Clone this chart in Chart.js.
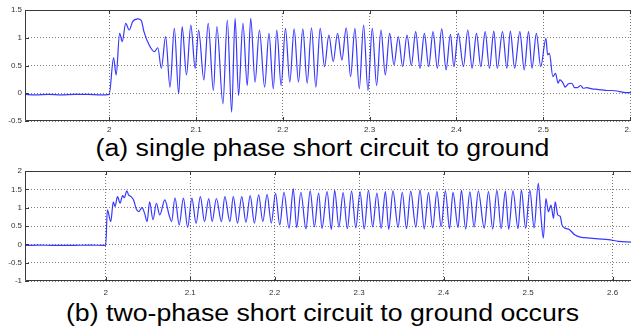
<!DOCTYPE html>
<html>
<head>
<meta charset="utf-8">
<script src="https://cdn.jsdelivr.net/npm/chart.js@4.4.1/dist/chart.umd.min.js"></script>
<style>
  html, body { margin: 0; padding: 0; background: #fff; overflow: hidden; }
  body { width: 631px; height: 333px; position: relative; }
  canvas { position: absolute; left: 0; }
  #chartA { top: 0; }
  #chartB { top: 160px; }
  .caption {
    position: absolute; left: 10px; width: 625px; text-align: center;
    font-family: 'Liberation Sans', Arial, sans-serif; font-size: 23px;
    line-height: 26px; color: #000; white-space: nowrap;
    transform: scaleX(1.16); transform-origin: 312.5px 0;
  }
  #capA { top: 135px; }
  #capB { top: 300px; }
</style>
</head>
<body>
<canvas id="chartA" width="631" height="134"></canvas>
<div class="caption" id="capA">(a) single phase short circuit to ground</div>
<canvas id="chartB" width="631" height="135"></canvas>
<div class="caption" id="capB">(b) two-phase short circuit to ground occurs</div>

<script>
// (a) single phase fault - time (s) and value
const timeA = [
  1.903, 1.915, 1.930, 1.945, 1.960, 1.975, 1.990, 2.000,
  2.005, 2.008, 2.012, 2.015, 2.019, 2.023, 2.027, 2.033, 2.037, 2.040,
  2.046, 2.052, 2.056, 2.060, 2.065, 2.070, 2.075, 2.080, 2.084, 2.089,
  2.094, 2.099, 2.103, 2.109, 2.114, 2.120, 2.124, 2.131, 2.136, 2.141,
  2.145, 2.149, 2.154, 2.159, 2.163, 2.168, 2.173, 2.179, 2.184, 2.189,
  2.193, 2.198, 2.203, 2.208, 2.213, 2.218, 2.223, 2.228, 2.233, 2.238,
  2.243, 2.248, 2.253, 2.258, 2.263, 2.268, 2.273, 2.278, 2.283, 2.288,
  2.293, 2.298, 2.303, 2.308, 2.313, 2.318, 2.323, 2.328, 2.333, 2.338,
  2.343, 2.348, 2.353, 2.358, 2.363, 2.368, 2.373, 2.378, 2.383, 2.388,
  2.393, 2.397, 2.402, 2.408, 2.413, 2.418, 2.423, 2.428, 2.433, 2.438,
  2.443, 2.447, 2.453, 2.458, 2.462, 2.467, 2.473, 2.478, 2.483, 2.487,
  2.492, 2.497, 2.503, 2.505, 2.507, 2.511, 2.514, 2.517, 2.519, 2.522,
  2.524, 2.525, 2.529, 2.533, 2.536, 2.539, 2.543, 2.546, 2.550, 2.556,
  2.562, 2.568, 2.573, 2.579, 2.585, 2.591, 2.597, 2.601
];
const valueA = [
  -0.02, -0.03, -0.02, -0.03, -0.02, -0.02, -0.03, -0.02,
  0.64, 0.33, 1.08, 0.93, 1.26, 1.14, 1.29, 1.34, 1.31, 1.11,
  0.87, 0.75, 0.82, 0.45, 1.02, 0.11, 1.17, -0.01, 1.20, 0.33,
  1.23, 0.45, 1.14, 0.24, 1.26, 0.05, 1.20, -0.19, 1.32, -0.34,
  1.35, -0.04, 1.26, 0.14, 1.35, 0.20, 1.14, 0.11, 1.08, 0.08,
  1.14, 0.14, 1.17, 0.20, 1.16, 0.20, 1.16, 0.18, 1.18, 0.11,
  1.17, 0.48, 1.05, 0.57, 1.08, 0.60, 1.18, 0.30, 1.17, 0.08,
  1.23, 0.05, 1.17, 0.14, 1.14, 0.33, 1.08, 0.51, 1.02, 0.48,
  1.05, 0.50, 1.11, 0.45, 1.08, 0.48, 1.11, 0.45, 1.16, 0.42,
  1.06, 0.48, 1.08, 0.48, 1.14, 0.45, 1.08, 0.48, 1.11, 0.45,
  1.12, 0.45, 1.11, 0.45, 1.12, 0.45, 1.11, 0.42, 1.11, 0.45,
  1.08, 0.48, 0.99, 0.69, 0.72, 0.30, 0.36, 0.18, 0.24, 0.20,
  0.14, 0.11, 0.17, 0.18, 0.10, 0.10, 0.14, 0.09, 0.10, 0.08,
  0.07, 0.06, 0.05, 0.05, 0.04, 0.02, 0.01, 0.01
];

// (b) two-phase fault
const timeB = [
  1.905, 1.920, 1.940, 1.960, 1.980, 2.000,
  2.002, 2.006, 2.009, 2.011, 2.014, 2.017, 2.020, 2.022, 2.025, 2.027,
  2.030, 2.033, 2.036, 2.039, 2.043, 2.046, 2.049, 2.052, 2.056, 2.060,
  2.064, 2.070, 2.075, 2.078, 2.082, 2.087, 2.092, 2.097, 2.102, 2.107,
  2.112, 2.117, 2.122, 2.126, 2.131, 2.137, 2.141, 2.147, 2.151, 2.156,
  2.161, 2.166, 2.171, 2.176, 2.181, 2.186, 2.191, 2.196, 2.201, 2.206,
  2.211, 2.217, 2.222, 2.226, 2.231, 2.237, 2.242, 2.247, 2.252, 2.256,
  2.262, 2.267, 2.271, 2.276, 2.281, 2.286, 2.291, 2.296, 2.301, 2.306,
  2.311, 2.316, 2.321, 2.326, 2.331, 2.335, 2.340, 2.346, 2.351, 2.356,
  2.361, 2.367, 2.372, 2.377, 2.382, 2.387, 2.392, 2.397, 2.402, 2.407,
  2.411, 2.417, 2.421, 2.426, 2.431, 2.436, 2.441, 2.448, 2.453, 2.458,
  2.463, 2.468, 2.473, 2.477, 2.482, 2.488, 2.492, 2.497, 2.502, 2.507,
  2.512, 2.515, 2.518, 2.521, 2.524, 2.527, 2.530, 2.532, 2.535, 2.538,
  2.540, 2.544, 2.549, 2.555, 2.563, 2.573, 2.583, 2.595, 2.607, 2.622
];
const valueB = [
  -0.03, -0.02, -0.03, -0.03, -0.02, -0.03,
  0.94, 0.62, 1.16, 1.03, 1.30, 1.12, 1.33, 1.27, 1.46, 1.35,
  1.30, 1.21, 0.98, 0.89, 1.00, 0.85, 0.62, 1.16, 0.67, 1.12,
  0.80, 1.21, 0.80, 0.62, 1.27, 0.53, 1.26, 0.46, 1.26, 0.57,
  1.30, 0.62, 1.25, 0.62, 1.25, 0.62, 1.30, 0.62, 1.30, 0.58,
  1.30, 0.60, 1.33, 0.58, 1.35, 0.62, 1.36, 0.58, 1.39, 0.53,
  1.42, 0.44, 1.51, 0.46, 1.42, 0.42, 1.46, 0.48, 1.40, 0.44,
  1.44, 0.41, 1.47, 0.47, 1.41, 0.43, 1.45, 0.45, 1.43, 0.42,
  1.47, 0.48, 1.40, 0.44, 1.44, 0.41, 1.46, 0.46, 1.42, 0.43,
  1.45, 0.47, 1.48, 0.42, 1.41, 0.45, 1.44, 0.48, 1.46, 0.43,
  1.42, 0.46, 1.47, 0.42, 1.43, 0.47, 1.45, 0.44, 1.44, 0.42,
  1.47, 0.43, 1.45, 0.41, 1.46, 0.43, 1.48, 0.44, 1.47, 0.45,
  1.66, 0.80, 0.17, 1.25, 0.89, 1.07, 0.71, 1.16, 0.80, 0.76,
  0.53, 0.44, 0.40, 0.26, 0.19, 0.17, 0.15, 0.13, 0.08, 0.06
];

const xTicks = [2.0, 2.1, 2.2, 2.3, 2.4, 2.5, 2.6];
const xTickLabels = ['2', '2.1', '2.2', '2.3', '2.4', '2.5', '2.6'];
const yTicksA = [-0.5, 0, 0.5, 1, 1.5];
const yTickLabelsA = ['-0.5', '0', '0.5', '1', '1.5'];
const yTicksB = [-1, -0.5, 0, 0.5, 1, 1.5, 2];
const yTickLabelsB = ['-1', '-0.5', '0', '0.5', '1', '1.5', '2'];

const tickFont = { family: "'Liberation Sans Narrow', 'Liberation Sans', sans-serif", size: 8 };

// matlab style box with inward tick marks
const framePlugin = {
  id: 'frame',
  afterDraw(chart) {
    const { ctx, chartArea: a, scales } = chart;
    ctx.save();
    ctx.strokeStyle = '#3a3a3a';
    ctx.lineWidth = 1;
    ctx.beginPath();
    ctx.rect(a.left + 0.5, a.top + 0.5, a.right - a.left, a.bottom - a.top - 1);
    scales.x.ticks.forEach(t => {
      const x = Math.round(scales.x.getPixelForValue(t.value)) + 0.5;
      ctx.moveTo(x, a.bottom); ctx.lineTo(x, a.bottom - 4);
      ctx.moveTo(x, a.top); ctx.lineTo(x, a.top + 4);
    });
    scales.y.ticks.forEach(t => {
      const y = Math.round(scales.y.getPixelForValue(t.value)) + 0.5;
      ctx.moveTo(a.left, y); ctx.lineTo(a.left + 4, y);
    });
    ctx.stroke();
    ctx.restore();
  }
};

function makeChart(id, times, values, yMin, yMax, yTicks, yLabels, xMin, xMax, padTop, xHeight, xPad) {
  const points = times.map((t, i) => ({ x: t, y: values[i] }));
  return new Chart(document.getElementById(id), {
    type: 'line',
    data: {
      datasets: [{
        data: points,
        borderColor: 'rgba(20,20,255,0.85)',
        borderWidth: 1.2,
        pointRadius: 0,
        cubicInterpolationMode: 'monotone',
        fill: false
      }]
    },
    options: {
      responsive: false,
      animation: false,
      devicePixelRatio: 1,
      layout: { padding: { top: padTop, left: 0, right: 0, bottom: 0 } },
      plugins: { legend: { display: false }, tooltip: { enabled: false } },
      scales: {
        x: {
          type: 'linear',
          min: xMin,
          max: xMax,
          afterBuildTicks: s => { s.ticks = xTicks.map(v => ({ value: v })); },
          afterFit: s => { s.height = xHeight; s.paddingLeft = 0; s.paddingRight = 0; },
          ticks: {
            autoSkip: false, maxRotation: 0, padding: xPad, color: '#333', font: tickFont,
            callback: v => xTickLabels[xTicks.indexOf(v)]
          },
          grid: { color: 'rgba(0,0,0,0.55)', drawTicks: false },
          border: { display: false, dash: [1, 2] }
        },
        y: {
          min: yMin,
          max: yMax,
          afterBuildTicks: s => { s.ticks = yTicks.map(v => ({ value: v })); },
          afterFit: s => { s.width = 25; s.paddingTop = 0; s.paddingBottom = 0; },
          ticks: {
            autoSkip: false, padding: 3, color: '#333', font: tickFont,
            callback: v => yLabels[yTicks.indexOf(v)]
          },
          grid: { color: 'rgba(0,0,0,0.5)', drawTicks: false },
          border: { display: false, dash: [1, 2] }
        }
      }
    },
    plugins: [framePlugin]
  });
}

makeChart('chartA', timeA, valueA, -0.5, 1.5, yTicksA, yTickLabelsA, 1.903, 2.601, 10, 13, 4);
makeChart('chartB', timeB, valueB, -1, 2, yTicksB, yTickLabelsB, 1.9045, 2.6217, 11, 14, 7);
</script>
</body>
</html>
